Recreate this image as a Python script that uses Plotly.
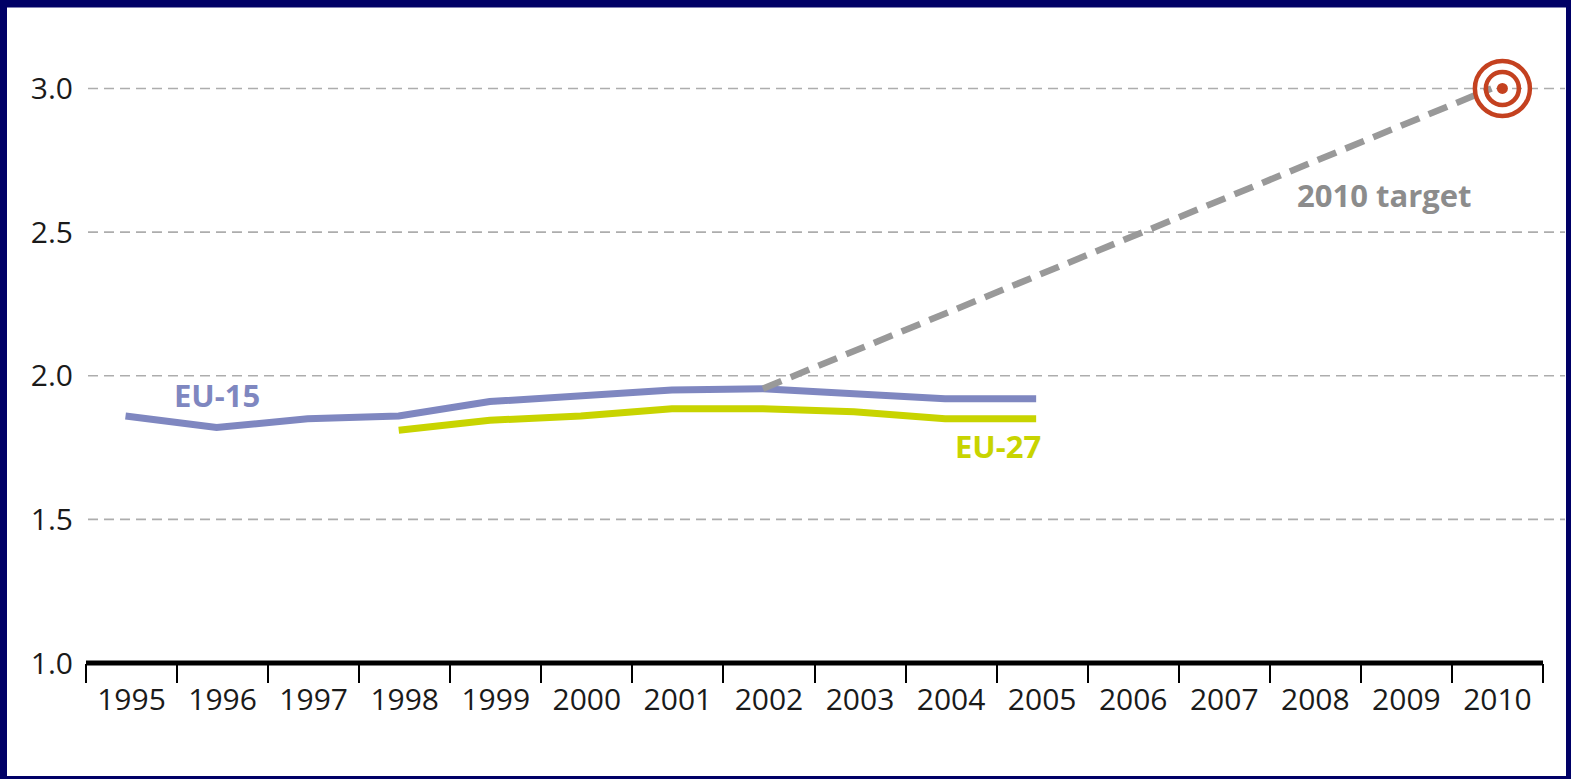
import plotly.graph_objects as go

# ---- data ----
years_eu15 = [1995, 1996, 1997, 1998, 1999, 2000, 2001, 2002, 2003, 2004, 2005]
eu15 = [1.86, 1.82, 1.85, 1.86, 1.91, 1.93, 1.95, 1.955, 1.94, 1.92, 1.92]
years_eu27 = [1998, 1999, 2000, 2001, 2002, 2003, 2004, 2005]
eu27 = [1.81, 1.845, 1.86, 1.885, 1.885, 1.875, 1.85, 1.85]
target_years = [2002, 2010]
target_values = [1.955, 3.0]
x_years = list(range(1995, 2011))
x_labels = [str(y) for y in x_years]
y_ticks = [1.0, 1.5, 2.0, 2.5, 3.0]
y_labels = ["1.0", "1.5", "2.0", "2.5", "3.0"]

# ---- style / layout ----
W, H = 1571, 779
L, R, T, B = 86, 28, 30.5, 116
pw = W - L - R
ph = H - T - B

# the category boxes sit slightly right of the data points in the original
BOX_SHIFT = 0.066      # label/box centre offset relative to data year
TARGET_DX = 0.12       # target symbol drawn slightly right of its line end
x_lo = x_years[0] - 0.5 + BOX_SHIFT
x_hi = x_years[-1] + 0.5 + BOX_SHIFT

FONT = "Open Sans"
C15 = "#7f87c0"
C27 = "#c8d400"
CT = "#999999"
CRED = "#c4411f"

fig = go.Figure()

fig.add_trace(go.Scatter(x=years_eu15, y=eu15, mode="lines",
                         line=dict(color=C15, width=7), hoverinfo="skip"))
fig.add_trace(go.Scatter(x=years_eu27, y=eu27, mode="lines",
                         line=dict(color=C27, width=7), hoverinfo="skip"))
fig.add_trace(go.Scatter(x=target_years, y=target_values, mode="lines",
                         line=dict(color=CT, width=6.5, dash="20px,10px"), hoverinfo="skip"))
# target symbol
tx = [target_years[-1] + TARGET_DX]
ty = [target_values[-1]]
fig.add_trace(go.Scatter(x=tx, y=ty, mode="markers",
                         marker=dict(symbol="circle-open", size=55, color=CRED,
                                     line=dict(color=CRED, width=4.5)), hoverinfo="skip"))
fig.add_trace(go.Scatter(x=tx, y=ty, mode="markers",
                         marker=dict(symbol="circle-open", size=33, color=CRED,
                                     line=dict(color=CRED, width=4.5)), hoverinfo="skip"))
fig.add_trace(go.Scatter(x=tx, y=ty, mode="markers",
                         marker=dict(symbol="circle", size=11, color=CRED,
                                     line=dict(width=0)), hoverinfo="skip"))

shapes = []
# white panel on navy paper
shapes.append(dict(type="rect", xref="paper", yref="paper",
                   x0=(7 - L) / pw, x1=(1566 - L) / pw,
                   y0=(H - B - 776) / ph, y1=(H - B - 7) / ph,
                   fillcolor="white", line=dict(width=0), layer="below"))
# dashed grid lines extending to the right edge
for v in y_ticks[1:]:
    shapes.append(dict(type="line", xref="paper", yref="y",
                       x0=2 / pw, x1=(1565 - L) / pw, y0=v, y1=v,
                       line=dict(color="#adadad", width=1.6, dash="10px,6px"),
                       layer="below"))
# thick x axis line
shapes.append(dict(type="line", xref="paper", yref="paper", x0=0, x1=1.0, y0=0, y1=0,
                   line=dict(color="black", width=5), layer="above"))

annotations = [
    dict(x=1996.0, y=1.932, text="<b>EU-15</b>", showarrow=False,
         font=dict(family=FONT, size=31, color=C15), xanchor="center", yanchor="middle"),
    dict(x=2004.58, y=1.755, text="<b>EU-27</b>", showarrow=False,
         font=dict(family=FONT, size=31, color=C27), xanchor="center", yanchor="middle"),
    dict(x=2008.83, y=2.63, text="<b>2010 target</b>", showarrow=False,
         font=dict(family=FONT, size=31, color="#8c8c8c"), xanchor="center", yanchor="middle"),
]

fig.update_layout(
    width=W, height=H,
    margin=dict(l=L, r=R, t=T, b=B, pad=0),
    paper_bgcolor="#000066",
    plot_bgcolor="white",
    showlegend=False,
    shapes=shapes,
    annotations=annotations,
    xaxis=dict(range=[x_lo, x_hi], tickvals=[y + BOX_SHIFT for y in x_years], ticktext=x_labels,
               ticks="outside", ticklen=10, tickcolor="rgba(0,0,0,0)",
               showgrid=False, zeroline=False, showline=False,
               tickfont=dict(family=FONT, size=30, color="#1a1a1a"),
               minor=dict(tickvals=[y - 0.5 + BOX_SHIFT for y in x_years] + [x_hi],
                          ticks="outside", ticklen=19, tickwidth=2, tickcolor="black",
                          showgrid=False),
               fixedrange=True),
    yaxis=dict(range=[1.0, 3.2], tickvals=y_ticks, ticktext=y_labels,
               ticks="outside", ticklen=6, tickcolor="rgba(0,0,0,0)",
               showgrid=False, zeroline=False, showline=False,
               tickfont=dict(family=FONT, size=30, color="#1a1a1a"),
               fixedrange=True),
)

fig.write_html("out.html", config={"displayModeBar": False},
               post_script="document.body.style.margin='0';document.body.style.overflow='hidden';"
                           "document.body.style.background='#000066';")
